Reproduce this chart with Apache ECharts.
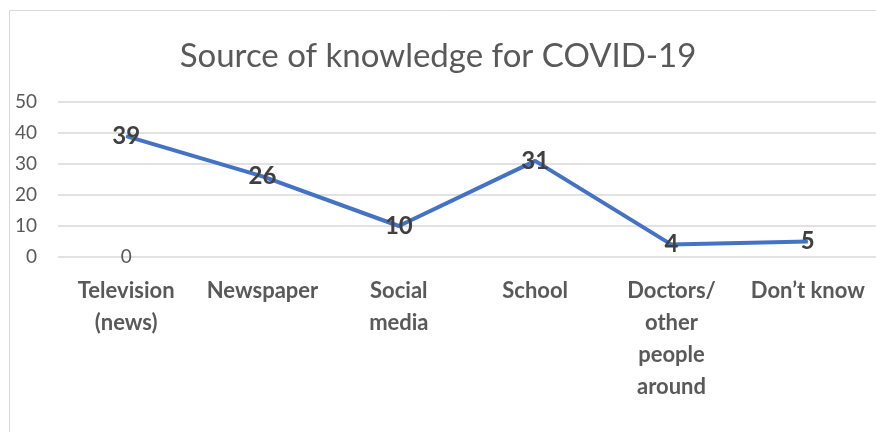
<!DOCTYPE html>
<html lang="en">

<head>
  <meta charset="UTF-8">
  <title>Source of knowledge for COVID-19</title>
</head>

<body style="margin:0;">
  <div id="main" style="width: 876px;height:432px;"></div>
  <script src="https://cdn.jsdelivr.net/npm/echarts@6/dist/echarts.min.js"></script>
  <script>
    const categories = ['Television\n(news)', 'Newspaper', 'Social\nmedia', 'School',
      'Doctors/\nother\npeople\naround', 'Don’t know'];
    const values = [39, 26, 10, 31, 4, 5];
    // the stray "0" label sitting under the first category
    const zeroValues = [0, null, null, null, null, null];
    const yTicks = { min: 0, max: 50, interval: 10 };

    const font = 'Lato, "Open Sans", sans-serif';
    const myChart = echarts.init(document.getElementById('main'));

    const option = {
      animation: false,
      backgroundColor: '#fff',
      title: {
        text: 'Source of knowledge for COVID-19',
        left: 'center',
        top: 35,
        textStyle: { fontFamily: font, fontSize: 33, fontWeight: 'normal', color: '#595959' }
      },
      graphic: [{
        type: 'rect',
        shape: { x: 9.5, y: 10.5, width: 880, height: 440 },
        style: { fill: 'none', stroke: '#d9d9d9', lineWidth: 1 },
        silent: true
      }],
      grid: { left: 58, right: -5, top: 102, bottom: 175 },
      xAxis: {
        type: 'category',
        data: categories,
        boundaryGap: true,
        axisLine: { show: false },
        axisTick: { show: false },
        axisLabel: {
          interval: 0,
          margin: 18,
          fontFamily: font,
          fontSize: 22,
          fontWeight: 'bold',
          lineHeight: 32,
          color: '#595959'
        }
      },
      yAxis: {
        type: 'value',
        min: yTicks.min,
        max: yTicks.max,
        interval: yTicks.interval,
        axisLine: { show: false },
        axisTick: { show: false },
        axisLabel: { margin: 21, fontFamily: font, fontSize: 19, color: '#595959' },
        splitLine: { lineStyle: { color: '#d9d9d9', width: 1.5 } }
      },
      series: [{
        type: 'line',
        data: values,
        symbol: 'circle',
        symbolSize: 1,
        showSymbol: true,
        itemStyle: { color: '#4472C4' },
        lineStyle: { color: '#4472C4', width: 4 },
        label: {
          show: true,
          position: 'inside',
          fontFamily: font,
          fontSize: 24,
          fontWeight: 'bold',
          color: '#404040'
        }
      }, {
        type: 'line',
        data: zeroValues,
        symbol: 'circle',
        symbolSize: 1,
        showSymbol: true,
        itemStyle: { color: 'rgba(0,0,0,0)' },
        lineStyle: { width: 0 },
        label: {
          show: true,
          position: 'inside',
          fontFamily: font,
          fontSize: 19,
          color: '#595959'
        }
      }]
    };

    myChart.setOption(option);
  </script>
</body>

</html>
